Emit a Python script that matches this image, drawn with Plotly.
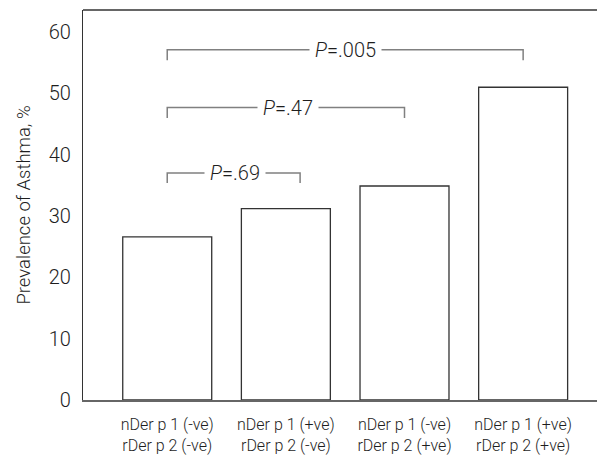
import plotly.graph_objects as go

categories = ["nDer p 1 (-ve)<br>rDer p 2 (-ve)",
              "nDer p 1 (+ve)<br>rDer p 2 (-ve)",
              "nDer p 1 (-ve)<br>rDer p 2 (+ve)",
              "nDer p 1 (+ve)<br>rDer p 2 (+ve)"]
prevalence = [26.6, 31.2, 34.9, 51.0]

# comparison brackets: start index, end index, height, tick depth, label, label x
br_start = [0, 0, 0]
br_end = [1.12, 2, 3]
br_y = [37.0, 47.7, 57.1]
br_drop = [1.6, 1.7, 1.7]
br_label = ["<i>P</i>=.69", "<i>P</i>=.47", "<i>P</i>=.005"]
br_label_x = [0.57, 1.02, 1.50]

yticks = [0, 10, 20, 30, 40, 50, 60]

xpos = list(range(len(categories)))
FONT = "Roboto"
W = 300
TXT = "#1e1e1e"

fig = go.Figure()
fig.add_trace(go.Bar(
    x=xpos, y=prevalence, width=0.75,
    marker=dict(color="white", line=dict(color="#333333", width=1.3)),
    showlegend=False, hoverinfo="skip"))

for s, e, y, d, lab, lx in zip(br_start, br_end, br_y, br_drop, br_label, br_label_x):
    fig.add_trace(go.Scatter(
        x=[s, s, e, e], y=[y - d, y, y, y - d], mode="lines",
        line=dict(color="#808080", width=1.5), showlegend=False, hoverinfo="skip"))
    fig.add_annotation(x=lx, y=y, xref="x", yref="y", text=lab, showarrow=False,
                       font=dict(size=20, color=TXT, family=FONT, weight=W),
                       bgcolor="white", borderpad=5)

# page body has an 8px margin: figure sits at (8, 8)
fig.update_layout(
    width=597, height=451,
    margin=dict(l=75, r=0, t=2, b=59),
    plot_bgcolor="white", paper_bgcolor="white",
    font=dict(family=FONT, color=TXT, weight=W),
)
fig.update_xaxes(
    range=[-0.71, 3.69], tickvals=xpos, ticktext=categories,
    showgrid=False, zeroline=False, automargin=False,
    showline=True, linecolor="#666666", linewidth=1.5,
    ticks="", ticklabelstandoff=9,
    tickfont=dict(size=16, color=TXT, family=FONT, weight=W))
fig.update_yaxes(
    range=[0, 63.6], tickvals=yticks, showgrid=False, zeroline=False, automargin=False,
    showline=True, linecolor="#333333", linewidth=1.3,
    ticks="", ticklabelstandoff=7,
    tickfont=dict(size=20, color=TXT, family=FONT, weight=W),
    title=dict(text="Prevalence of Asthma, %",
               font=dict(size=18.5, color=TXT, family=FONT, weight=W),
               standoff=13))

# top border of the plot
fig.add_shape(type="line", xref="paper", yref="paper", x0=0, x1=1, y0=1, y1=1,
              line=dict(color="#333333", width=1.3))

fig.write_html("out.html")
